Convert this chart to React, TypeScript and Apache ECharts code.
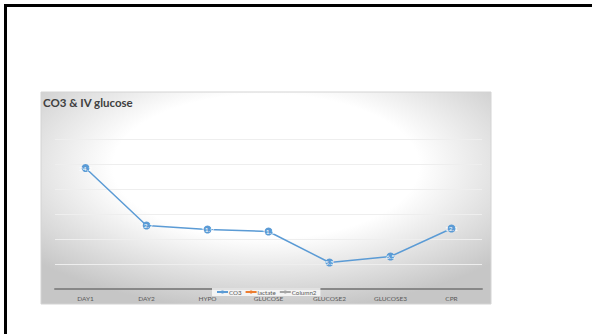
import React, { useEffect, useRef } from "react";
import * as echarts from "echarts";

const categories = ["DAY1", "DAY2", "HYPO", "GLUCOSE", "GLUCOSE2", "GLUCOSE3", "CPR"];
const co3 = [24.2, 12.7, 11.9, 11.5, 5.3, 6.5, 12.1];
const lactate: (number | null)[] = [null, null, null, null, null, null, null];
const column2: (number | null)[] = [null, null, null, null, null, null, null];
const yTicks = { min: 0, max: 30, interval: 5 };

export default function App() {
  const ref = useRef<HTMLDivElement>(null);
  useEffect(() => {
    document.body.style.margin = "0";
    const chart = echarts.init(ref.current!, undefined, { renderer: "svg" });
    const font = "Lato, 'Open Sans', sans-serif";
    chart.setOption({
      animation: false,
      graphic: [
        { type: "rect", z: -10, shape: { x: 0, y: 0, width: 592, height: 334 }, style: { fill: "#ffffff" } },
        { type: "rect", z: -9, shape: { x: 4, y: 4, width: 588, height: 3 }, style: { fill: "#000000" } },
        { type: "rect", z: -9, shape: { x: 4, y: 4, width: 3, height: 330 }, style: { fill: "#000000" } },
        {
          type: "rect",
          z: -8,
          shape: { x: 41, y: 92, width: 450, height: 212 },
          style: {
            fill: {
              type: "radial",
              x: 0.5,
              y: 0.35,
              r: 0.68,
              colorStops: [
                { offset: 0, color: "#ffffff" },
                { offset: 0.5, color: "#ffffff" },
                { offset: 1, color: "#c6c6c6" },
              ],
            },
            stroke: "#d4d4d4",
            lineWidth: 1,
          },
        },
        {
          type: "text",
          x: 43,
          y: 96,
          style: { text: "CO3 & IV glucose", font: `bold 11.5px ${font}`, fill: "#404040" },
        },
      ],
      grid: { left: 55, right: 110, top: 139, bottom: 45 },
      legend: {
        left: 212,
        top: 288,
        itemWidth: 11,
        itemHeight: 4,
        itemGap: 3,
        padding: [1, 4],
        backgroundColor: "rgba(255,255,255,0.75)",
        textStyle: { fontSize: 6.2, color: "#595959", fontFamily: font, padding: [0, 0, 0, -4] },
        data: ["CO3", "lactate", "Column2"],
      },
      xAxis: {
        type: "category",
        data: categories,
        axisLine: { lineStyle: { color: "#888888", width: 2 } },
        axisTick: { show: false },
        axisLabel: { color: "#595959", fontSize: 6.5, fontFamily: font, margin: 6, interval: 0 },
      },
      yAxis: {
        type: "value",
        min: yTicks.min,
        max: yTicks.max,
        interval: yTicks.interval,
        axisLabel: { show: false },
        axisLine: { show: false },
        axisTick: { show: false },
        splitLine: { lineStyle: { color: "#eeeeee", width: 1 } },
      },
      series: [
        {
          name: "CO3",
          type: "line",
          data: co3,
          color: "#5b9bd5",
          symbol: "circle",
          symbolSize: 8,
          lineStyle: { width: 1.5 },
          label: {
            show: true,
            position: "inside",
            color: "#ffffff",
            fontSize: 6.5,
            fontFamily: font,
          },
        },
        { name: "lactate", type: "line", data: lactate, color: "#ed7d31", symbol: "circle", symbolSize: 4 },
        { name: "Column2", type: "line", data: column2, color: "#a5a5a5", symbol: "circle", symbolSize: 4 },
      ],
    });
    return () => chart.dispose();
  }, []);
  return <div ref={ref} style={{ width: 592, height: 334 }} />;
}
